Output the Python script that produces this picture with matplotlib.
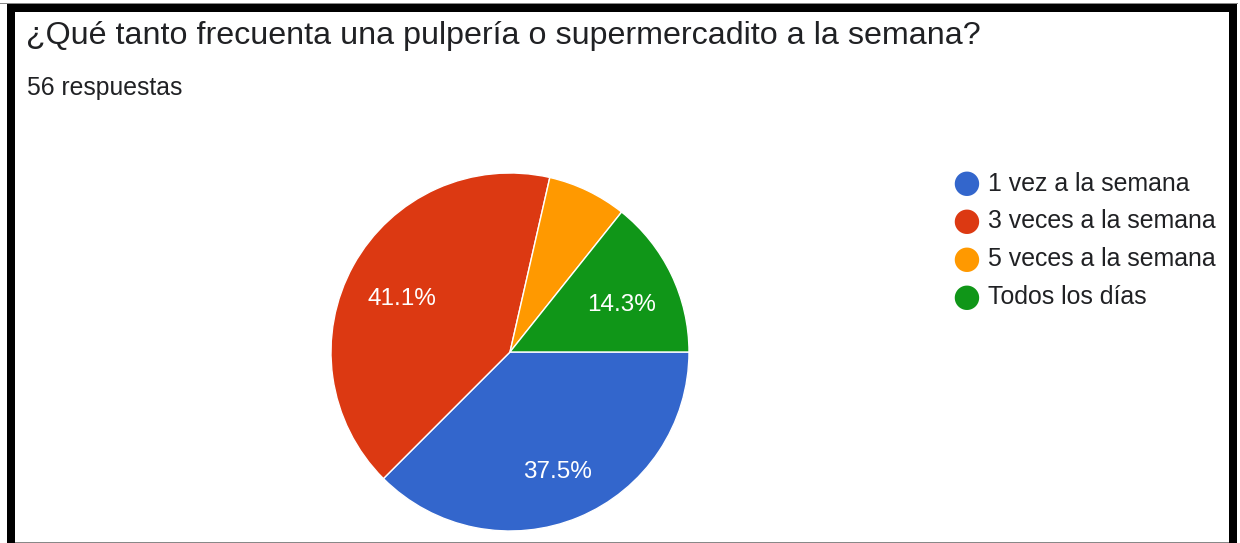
import matplotlib
matplotlib.use("Agg")
from matplotlib import pyplot
from matplotlib.patches import Rectangle

title = "¿Qué tanto frecuenta una pulpería o supermercadito a la semana?"
subtitle = "56 respuestas"
labels = ["1 vez a la semana", "3 veces a la semana", "5 veces a la semana", "Todos los días"]
counts = [21, 23, 4, 8]
colors = ["#3366cc", "#dc3912", "#ff9900", "#109618"]

W, H = 1240, 543
pyplot.rcParams['font.family'] = ['Liberation Sans', 'DejaVu Sans']

fig = pyplot.figure(figsize=(W / 100, H / 100), dpi=100)
fig.patch.set_facecolor("white")


def px(x, y, w, h):
    # pixel box (top-left origin) -> figure fraction
    return [x / W, 1 - (y + h) / H, w / W, h / H]


# frame around the screenshot
for x, y, w, h, c in [(0, 3, 1238, 1.2, "#888888"), (7, 4, 1230, 8, "black"),
                      (7, 4, 8, 539, "black"), (1229, 4, 8, 539, "black"),
                      (15, 541.5, 1214, 1.5, "#888888")]:
    b = px(x, y, w, h)
    fig.patches.append(Rectangle((b[0], b[1]), b[2], b[3], transform=fig.transFigure,
                                 facecolor=c, edgecolor="none", zorder=5))

fig.text(26 / W, 1 - 36 / H, title, fontsize=23.2, color="#202124", va="center", ha="left")
fig.text(27 / W, 1 - 88 / H, subtitle, fontsize=17.8, color="#202124", va="center", ha="left")

cx, cy, r = 510, 352, 179
ax = fig.add_axes(px(cx - r, cy - r, 2 * r, 2 * r))
wedges, texts, autotexts = ax.pie(
    counts, colors=colors, startangle=0, counterclock=False,
    autopct=lambda p: f"{p:.1f}%" if p > 10 else "", pctdistance=0.69,
    wedgeprops=dict(edgecolor="white", linewidth=1),
    textprops=dict(color="white", fontsize=17.5))
# nudge the percentages down a touch, like the original
for t in autotexts:
    x, y = t.get_position()
    t.set_position((x, y - 0.035))
ax.set_xlim(-1, 1)
ax.set_ylim(-1, 1)
ax.set_aspect("equal")

leg_y = [184, 221, 259, 297]
for lab, col, yy in zip(labels, colors, leg_y):
    fig.text(966 / W, 1 - yy / H, "●", fontsize=23, color=col, va="center", ha="center",
             family="DejaVu Sans")
    fig.text(988 / W, 1 - yy / H, lab, fontsize=17.9, color="#202124", va="center", ha="left")

fig.savefig("out.png", dpi=100)
